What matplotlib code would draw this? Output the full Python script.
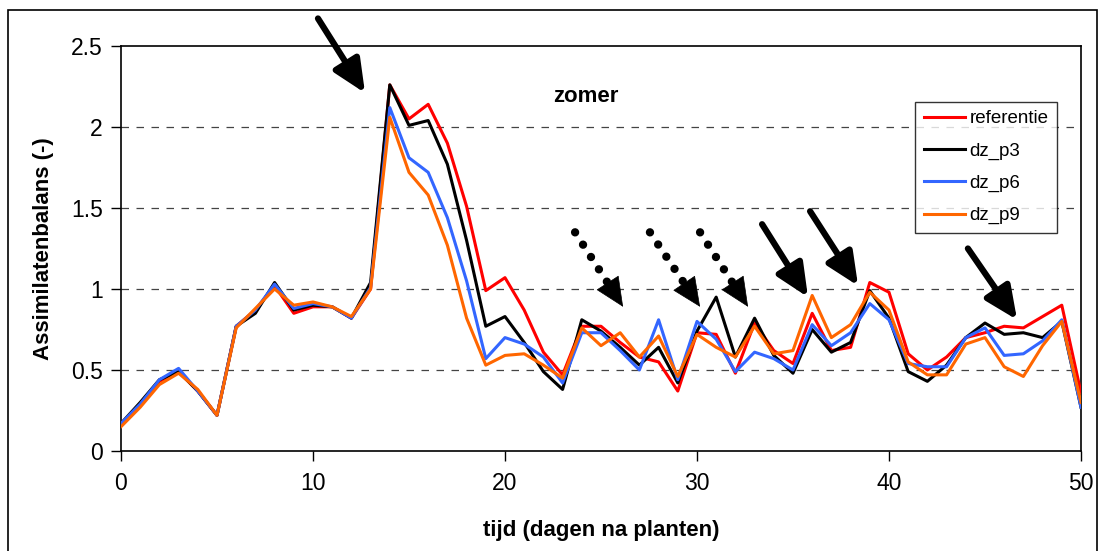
import numpy as np
import matplotlib.pyplot as plt
from matplotlib.patches import Rectangle

plt.rcParams['font.family'] = ['Liberation Sans', 'DejaVu Sans']

# dagen na planten
dagen = np.arange(0, 51)

referentie = [0.17, 0.28, 0.43, 0.49, 0.37, 0.22, 0.77, 0.87, 1.02, 0.85,
              0.89, 0.89, 0.82, 1.00, 2.26, 2.05, 2.14, 1.90, 1.51, 0.99,
              1.07, 0.87, 0.61, 0.47, 0.77, 0.77, 0.67, 0.58, 0.55, 0.37,
              0.73, 0.72, 0.48, 0.79, 0.62, 0.54, 0.85, 0.62, 0.64, 1.04,
              0.98, 0.60, 0.50, 0.58, 0.70, 0.73, 0.77, 0.76, 0.83, 0.90,
              0.36]
dz_p3 = [0.17, 0.30, 0.44, 0.49, 0.37, 0.22, 0.77, 0.85, 1.04, 0.87,
         0.90, 0.89, 0.82, 1.04, 2.26, 2.01, 2.04, 1.77, 1.30, 0.77,
         0.83, 0.67, 0.49, 0.38, 0.81, 0.74, 0.64, 0.53, 0.64, 0.42,
         0.74, 0.95, 0.58, 0.82, 0.59, 0.48, 0.75, 0.61, 0.67, 0.99,
         0.82, 0.49, 0.43, 0.53, 0.70, 0.79, 0.72, 0.73, 0.70, 0.80,
         0.27]
dz_p6 = [0.17, 0.29, 0.44, 0.51, 0.37, 0.22, 0.77, 0.87, 1.03, 0.88,
         0.91, 0.89, 0.82, 1.01, 2.12, 1.81, 1.72, 1.44, 1.05, 0.57,
         0.70, 0.66, 0.58, 0.42, 0.73, 0.73, 0.62, 0.50, 0.81, 0.44,
         0.80, 0.69, 0.49, 0.61, 0.57, 0.50, 0.78, 0.65, 0.73, 0.91,
         0.81, 0.54, 0.52, 0.52, 0.70, 0.76, 0.59, 0.60, 0.68, 0.81,
         0.27]
dz_p9 = [0.15, 0.27, 0.41, 0.48, 0.38, 0.22, 0.76, 0.88, 1.00, 0.90,
         0.92, 0.89, 0.83, 1.00, 2.06, 1.72, 1.58, 1.27, 0.82, 0.53,
         0.59, 0.60, 0.53, 0.45, 0.76, 0.65, 0.73, 0.58, 0.71, 0.46,
         0.72, 0.64, 0.58, 0.77, 0.60, 0.62, 0.96, 0.70, 0.78, 0.98,
         0.87, 0.55, 0.47, 0.47, 0.66, 0.70, 0.52, 0.46, 0.65, 0.80,
         0.30]

namen = ['referentie', 'dz_p3', 'dz_p6', 'dz_p9']
kleuren = ['#ff0000', '#000000', '#3366ff', '#ff6600']

# pijlen (staart, punt) in data-coordinaten
pijlen_vol = [((10.26, 2.67), (12.71, 2.21)),
              ((33.39, 1.40), (35.78, 0.95)),
              ((35.89, 1.48), (38.39, 1.02)),
              ((44.11, 1.25), (46.67, 0.81))]
pijlen_stip = [((23.65, 1.35), (26.15, 0.89)),
               ((27.55, 1.35), (30.16, 0.89)),
               ((30.16, 1.35), (32.66, 0.89))]

fig = plt.figure(figsize=(10.98, 5.51), dpi=100)
ax = fig.add_axes([0.1102, 0.1815, 0.8743, 0.735])

for reeks, naam, kleur in zip([referentie, dz_p3, dz_p6, dz_p9], namen, kleuren):
    ax.plot(dagen, reeks, color=kleur, lw=2.2, label=naam, zorder=3)

ax.set_xlim(0, 50)
ax.set_ylim(0, 2.5)
ax.set_xticks([0, 10, 20, 30, 40, 50])
ax.set_yticks([0, 0.5, 1, 1.5, 2, 2.5])
ax.set_yticklabels(['0', '0.5', '1', '1.5', '2', '2.5'])
for yv in [0.5, 1, 1.5, 2]:
    ax.axhline(yv, color='#444444', lw=0.9, ls=(0, (6, 6)), zorder=1)
ax.tick_params(direction='out', length=7, width=1, labelsize=16.5, pad=6)
ax.tick_params(axis='x', pad=8)
for s in ax.spines.values():
    s.set_linewidth(1.2)

ax.set_ylabel('Assimilatenbalans (-)', fontsize=16, fontweight='bold', labelpad=12)
ax.set_xlabel('tijd (dagen na planten)', fontsize=16, fontweight='bold', labelpad=18)
ax.text(24.2, 2.19, 'zomer', fontsize=16, fontweight='bold', ha='center', va='center')

leg = ax.legend(loc='upper right', bbox_to_anchor=(0.975, 0.862), fontsize=13.5,
                frameon=True, fancybox=False, edgecolor='black',
                handlelength=2.2, handletextpad=0.25, labelspacing=0.8,
                borderpad=0.45, borderaxespad=0)
leg.get_frame().set_linewidth(1.0)

kop = '-|>,head_length=1.1,head_width=0.5'

for staart, punt in pijlen_vol:
    ax.annotate('', xy=punt, xytext=staart, annotation_clip=False,
                arrowprops=dict(arrowstyle=kop, mutation_scale=18,
                                lw=4.5, color='black', shrinkA=0, shrinkB=0))

for staart, punt in pijlen_stip:
    (x0, y0), (x1, y1) = staart, punt
    xm = x0 + 0.68 * (x1 - x0)
    ym = y0 + 0.68 * (y1 - y0)
    ax.plot([x0, xm], [y0, ym], color='black', lw=6, ls=(0, (0.01, 1.75)),
            dash_capstyle='round', solid_capstyle='round')
    ax.annotate('', xy=punt, xytext=(xm, ym),
                arrowprops=dict(arrowstyle=kop, mutation_scale=18,
                                lw=0.5, color='black', shrinkA=0, shrinkB=0))

fig.patches.append(Rectangle((8 / 1098, -0.01), 1089 / 1098, 1 - 10 / 551 + 0.01,
                             transform=fig.transFigure, fill=False,
                             edgecolor='black', lw=1.2))

fig.savefig('out.png', dpi=100)
